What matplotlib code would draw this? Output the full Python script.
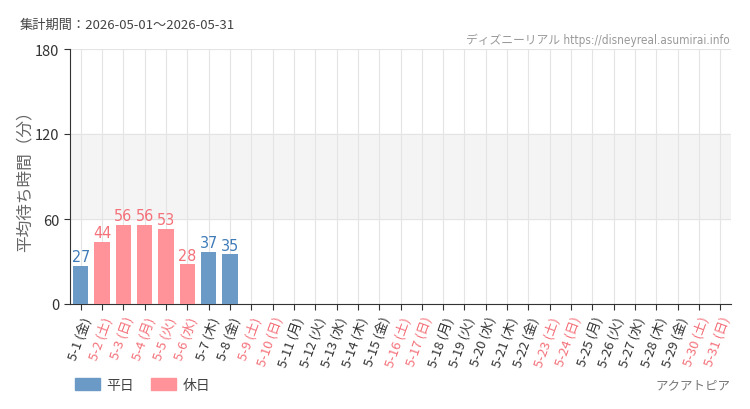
import matplotlib
matplotlib.use("Agg")
import matplotlib.pyplot as plt
from matplotlib.patches import Patch
import numpy as np

plt.rcParams['font.family'] = ['Noto Sans CJK JP', 'DejaVu Sans']

days = list(range(1, 32))
weekdays = ['金', '土', '日', '月', '火', '水', '木'] * 5
weekdays = weekdays[:31]
holidays = [2, 3, 4, 5, 6, 9, 10, 16, 17, 23, 24, 30, 31]
wait_values = {1: 27, 2: 44, 3: 56, 4: 56, 5: 53, 6: 28, 7: 37, 8: 35}
yticks = [0, 60, 120, 180]

BLUE = '#6b9ac6'
PINK = '#ff9399'
BLUE_TXT = '#3f7bb8'
PINK_TXT = '#f4717a'

fig = plt.figure(figsize=(7.5, 4.1), dpi=100)
ax = fig.add_axes([70 / 750, 1 - 305 / 410, 661 / 750, 255 / 410])

x = np.arange(len(days))
labels = [f"5-{d} ({w})" for d, w in zip(days, weekdays)]

ax.axhspan(60, 120, color='#f4f4f4', zorder=0)
for d, v in wait_values.items():
    hol = d in holidays
    ax.bar(d - 1, v, width=0.72, color=PINK if hol else BLUE, zorder=3)
    ax.text(d - 1, v + 1.0, str(v), ha='center', va='bottom', fontsize=11.5,
            color=PINK_TXT if hol else BLUE_TXT, fontfamily='DejaVu Sans',
            fontstretch='condensed', zorder=4)

ax.set_xlim(-0.5, len(days) - 0.5)
ax.set_ylim(0, 180)
ax.set_yticks(yticks)
ax.set_yticklabels([str(t) for t in yticks], fontsize=10.5, color='#333333')
ax.set_xticks(x)
ax.set_xticklabels(labels, rotation=70, ha='right', rotation_mode='anchor', fontsize=9.5)
for lbl, d in zip(ax.get_xticklabels(), days):
    lbl.set_color(PINK_TXT if d in holidays else '#333333')

ax.grid(True, color='#e4e4e4', linewidth=0.8, zorder=1)
ax.set_axisbelow(True)
for s in ['top', 'right']:
    ax.spines[s].set_visible(False)
ax.spines['left'].set_color('#333333')
ax.spines['bottom'].set_color('#333333')
ax.tick_params(axis='both', color='#333333', length=4)

ax.set_ylabel('平均待ち時間（分）', fontsize=12, color='#666666', labelpad=1)

fig.text(20 / 750, 1 - 25 / 410, '集計期間：2026-05-01～2026-05-31', fontsize=9.5,
         color='#444444', va='center', ha='left')
fig.text(730 / 750, 1 - 40 / 410, 'ディズニーリアル https://disneyreal.asumirai.info', fontsize=8.5,
         color='#999999', va='center', ha='right', fontstretch='condensed',
         fontfamily=['DejaVu Sans', 'Noto Sans CJK JP'])
fig.text(730 / 750, 1 - 386 / 410, 'アクアトピア', fontsize=9, color='#777777', va='center', ha='right')

handles = [Patch(color=BLUE, label='平日'), Patch(color=PINK, label='休日')]
fig.legend(handles=handles, loc='center left', bbox_to_anchor=(62 / 750, 1 - 386 / 410), ncol=2,
           frameon=False, fontsize=10, handlelength=1.8, handleheight=0.9, columnspacing=1.2,
           handletextpad=0.5, labelcolor='#444444')

fig.savefig('out.png', dpi=100, facecolor='white')
